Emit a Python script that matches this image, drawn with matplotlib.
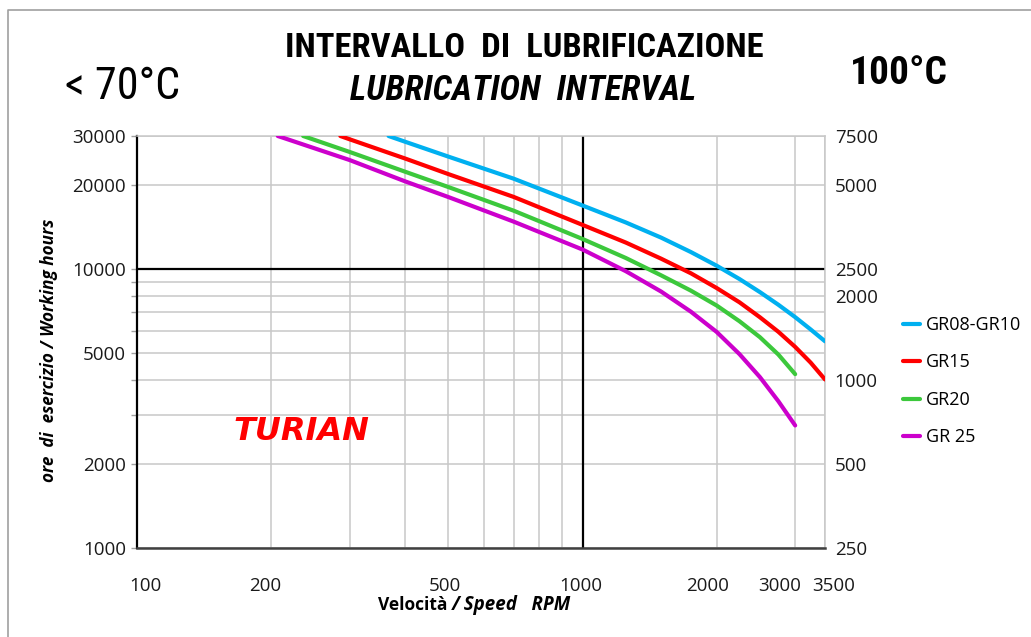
import matplotlib
matplotlib.use("Agg")
import matplotlib.pyplot as plt
from matplotlib import font_manager
from matplotlib.ticker import FixedLocator, NullFormatter, FixedFormatter
from matplotlib.transforms import ScaledTranslation
from matplotlib.lines import Line2D

# speed (RPM) vs working hours
speed_gr08 = [367, 400, 500, 700, 1000, 1250, 1500, 1750, 2000, 2250, 2500, 2750, 3000, 3250, 3500]
hours_gr08 = [30000, 28600, 25300, 21100, 16900, 14700, 12970, 11510, 10280, 9210, 8270, 7450, 6725, 6075, 5510]

speed_gr15 = [286, 300, 400, 500, 700, 1000, 1250, 1500, 1750, 2000, 2250, 2500, 2750, 3000, 3250, 3500]
hours_gr15 = [30000, 29200, 24900, 21900, 18150, 14400, 12450, 10900, 9660, 8550, 7600, 6720, 5960, 5260, 4620, 4020]

speed_gr20 = [236, 300, 400, 500, 700, 1000, 1250, 1500, 1750, 2000, 2250, 2500, 2750, 3000]
hours_gr20 = [30000, 26300, 22330, 19680, 16200, 12820, 10960, 9500, 8370, 7400, 6500, 5700, 4940, 4200]

speed_gr25 = [207, 300, 400, 500, 700, 1000, 1250, 1500, 1750, 2000, 2250, 2500, 2750, 3000]
hours_gr25 = [30000, 24600, 20620, 18120, 14800, 11750, 9830, 8310, 7035, 5950, 4955, 4100, 3360, 2750]

series = [
    ("GR08-GR10", speed_gr08, hours_gr08, "#00b0f0"),
    ("GR15", speed_gr15, hours_gr15, "#ff0000"),
    ("GR20", speed_gr20, hours_gr20, "#3cc83c"),
    ("GR 25", speed_gr25, hours_gr25, "#cc00cc"),
]

x_labels = [100, 200, 500, 1000, 2000, 3000, 3500]
x_minor = [300, 400, 600, 700, 800, 900]
y_labels = [1000, 2000, 5000, 10000, 20000, 30000]
y_minor = [3000, 4000, 6000, 7000, 8000, 9000]
y_right = [250, 500, 1000, 2000, 2500, 5000, 7500]
# small horizontal nudges of the x tick labels (pixels), as in the reference
x_label_shift = {"100": 8, "200": -6, "500": -4, "1000": -2, "2000": -9, "3000": -16, "3500": 9}

FONT = ["Open Sans", "DejaVu Sans"]
plt.rcParams["font.family"] = FONT

# look for a narrow / condensed face for the headings
avail = font_manager.fontManager.ttflist
names = {f.name for f in avail}
narrow_family, narrow_stretch = ["Roboto", "DejaVu Sans"], "normal"
for cand in ["Liberation Sans Narrow", "Arial Narrow", "Roboto Condensed",
             "DejaVu Sans Condensed", "Open Sans Condensed", "Noto Sans Condensed"]:
    if cand in names:
        narrow_family = [cand, "DejaVu Sans"]
        break
else:
    for f in avail:
        if f.stretch in ("condensed", "semi-condensed", "extra-condensed") and "Sans" in f.name:
            narrow_family, narrow_stretch = [f.name, "DejaVu Sans"], "condensed"
            break

fig = plt.figure(figsize=(10.31, 6.37), dpi=100)
ax = fig.add_axes([137 / 1031, 1 - 548 / 637, (825 - 137) / 1031, (548 - 136) / 637])

ax.set_xscale("log")
ax.set_yscale("log")
ax.set_xlim(100, 3500)
ax.set_ylim(1000, 30000)

ax.xaxis.set_major_locator(FixedLocator(x_labels))
ax.xaxis.set_major_formatter(FixedFormatter([str(v) for v in x_labels]))
ax.xaxis.set_minor_locator(FixedLocator(x_minor))
ax.xaxis.set_minor_formatter(NullFormatter())
ax.yaxis.set_major_locator(FixedLocator(y_labels))
ax.yaxis.set_major_formatter(FixedFormatter([str(v) for v in y_labels]))
ax.yaxis.set_minor_locator(FixedLocator(y_minor))
ax.yaxis.set_minor_formatter(NullFormatter())

ax.grid(True, which="both", color="#c8c8c8", linewidth=1.1, zorder=0)
ax.set_axisbelow(True)
ax.axvline(1000, color="black", linewidth=1.6, zorder=2)
ax.axhline(10000, color="black", linewidth=1.6, zorder=2)

ax.tick_params(axis="x", which="both", length=0, pad=21, labelsize=13.5, labelcolor="#1a1a1a")
ax.tick_params(axis="y", which="both", length=4, width=1, color="#a0a0a0",
               pad=4, labelsize=13.5, labelcolor="#1a1a1a")

for name, xs, ys, col in series:
    ax.plot(xs, ys, color=col, linewidth=3, label=name, zorder=3,
            solid_capstyle="round")

ax.spines["left"].set_color("black")
ax.spines["left"].set_linewidth(1.6)
ax.spines["bottom"].set_color("#404040")
ax.spines["bottom"].set_linewidth(1.8)
ax.spines["top"].set_color("#c8c8c8")
ax.spines["top"].set_linewidth(1.1)
ax.spines["right"].set_color("#c8c8c8")
ax.spines["right"].set_linewidth(1.1)

ax2 = ax.twinx()
ax2.set_yscale("log")
ax2.set_ylim(250, 7500)
ax2.yaxis.set_major_locator(FixedLocator(y_right))
ax2.yaxis.set_major_formatter(FixedFormatter([str(v) for v in y_right]))
ax2.yaxis.set_minor_locator(FixedLocator([]))
ax2.tick_params(axis="y", length=0, pad=7, labelsize=13.5, labelcolor="#1a1a1a")
for s in ax2.spines.values():
    s.set_visible(False)

ax.legend(loc="upper left", bbox_to_anchor=(903 / 1031, 1 - 316 / 637),
          bbox_transform=fig.transFigure, frameon=False, fontsize=13,
          borderpad=0, borderaxespad=0, handlelength=0.95, handletextpad=0.3,
          labelspacing=1.08)

# titles and annotations
heads = []
heads.append((fig.text(524 / 1031, 1 - 48 / 637, "INTERVALLO  DI  LUBRIFICAZIONE",
                       family=narrow_family, fontstretch=narrow_stretch, fontsize=23,
                       fontweight="bold", ha="center", va="center"), 478))
heads.append((fig.text(523 / 1031, 1 - 90 / 637, "LUBRICATION  INTERVAL",
                       family=narrow_family, fontstretch=narrow_stretch, fontsize=23,
                       fontweight="bold", fontstyle="italic", ha="center", va="center"), 347))
heads.append((fig.text(65 / 1031, 1 - 87 / 637, "< 70°C", family=narrow_family,
                       fontstretch=narrow_stretch, fontsize=28, fontweight="normal",
                       ha="left", va="center"), 115))
heads.append((fig.text(850 / 1031, 1 - 74 / 637, "100°C", family=narrow_family,
                       fontstretch=narrow_stretch, fontsize=28, fontweight="bold",
                       ha="left", va="center"), 98))
fig.text(233 / 1031, 1 - 432 / 637, "TURIAN", family=["DejaVu Sans"], fontsize=23,
         fontweight="bold", fontstyle="italic", color="#ff0000", ha="left", va="center")

fig.text(49 / 1031, 1 - 350 / 637, "ore  di  esercizio / Working hours", fontsize=12.3,
         fontweight="bold", fontstyle="italic", rotation=90, ha="center", va="center")
fig.text(452 / 1031, 1 - 605 / 637, "Velocità ", fontsize=12.5, fontweight="bold",
         ha="right", va="center")
fig.text(452 / 1031, 1 - 605 / 637, "/ Speed   RPM", fontsize=13.5, fontweight="bold",
         fontstyle="italic", ha="left", va="center")

# outer frame of the sheet
fig.add_artist(Line2D([8 / 1031, 8 / 1031, 1.0], [0.0, 1 - 10 / 637, 1 - 10 / 637],
                      transform=fig.transFigure, color="#a0a0a0", linewidth=1.2))

# scale the headings to the widths they take in the reference
fig.canvas.draw()
renderer = fig.canvas.get_renderer()
for txt, width_px in heads:
    w = txt.get_window_extent(renderer).width
    txt.set_fontsize(txt.get_fontsize() * width_px / w)

for tick in ax.xaxis.get_major_ticks():
    dx = x_label_shift.get(tick.label1.get_text(), 0)
    if dx:
        tick.label1.set_transform(tick.label1.get_transform()
                                  + ScaledTranslation(dx / 100, 0, fig.dpi_scale_trans))

fig.savefig("out.png", dpi=100)
